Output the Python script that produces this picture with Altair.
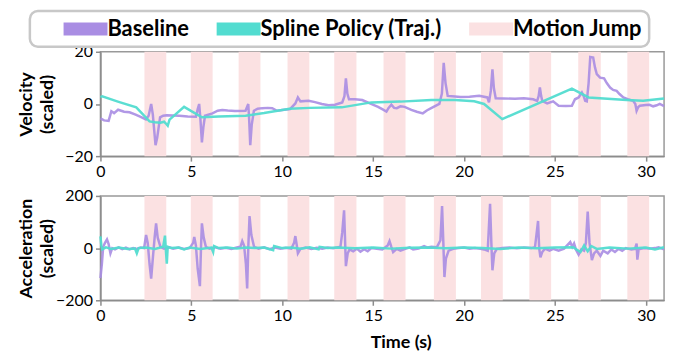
import altair as alt
import pandas as pd

FONT = "Lato"
PURPLE = "#a98de3"
TEAL = "#52dcd0"
PINK = "#fbe1e2"

series_names = ["Baseline", "Spline Policy (Traj.)", "Motion Jump"]

jump_start = [2.42, 4.97, 7.60, 10.29, 12.86, 15.57, 18.34, 20.93, 23.59, 26.28, 28.98]
jump_end = [3.62, 6.17, 8.80, 11.49, 14.08, 16.78, 19.55, 22.13, 24.79, 27.52, 30.18]

vel_base_t = [0.0, 0.2, 0.45, 0.6, 0.75, 0.97, 1.3, 1.6, 1.9, 2.15, 2.5, 2.65, 2.79, 2.88, 3.03, 3.12,
              3.28, 3.45, 3.65, 4.0, 4.34, 4.8, 5.25, 5.35, 5.43, 5.5, 5.58, 5.66, 5.75, 6.16, 6.45,
              6.7, 7.0, 7.4, 7.98, 8.13, 8.18, 8.24, 8.32, 8.44, 8.65, 8.9, 9.2, 9.45, 9.71, 10.0,
              10.43, 10.72, 10.86, 11.0, 11.45, 11.8, 12.18, 12.55, 12.9, 13.3, 13.42, 13.5, 13.58,
              13.67, 14.0, 14.4, 14.82, 15.27, 15.5, 15.73, 15.85, 16.0, 16.15, 16.3, 16.5, 16.73,
              17.1, 17.4, 17.73, 17.95, 18.19, 18.64, 18.78, 18.88, 18.98, 19.1, 19.5, 19.8, 20.3,
              20.83, 21.28, 21.37, 21.47, 21.56, 21.64, 21.74, 22.2, 22.8, 23.29, 23.8, 24.02, 24.1,
              24.17, 24.24, 24.3, 24.57, 24.9, 25.2, 25.6, 25.93, 26.1, 26.3, 26.48, 26.58, 26.66,
              26.75, 26.85, 26.94, 27.1, 27.2, 27.3, 27.48, 27.7, 27.85, 28.03, 28.2, 28.39, 28.55,
              28.76, 29.0, 29.3, 29.42, 29.49, 29.58, 29.67, 30.0, 30.2, 30.4, 30.6, 30.76, 31.0]
vel_base_v = [-5.5, -6.3, -6.5, -2.8, -3.5, -2.2, -3.0, -3.2, -4.0, -4.8, -5.9, -4.5, 0.0, -4.0, -15.8, -13.0,
              -5.1, -4.5, -4.3, -4.4, -4.5, -4.8, -4.9, -2.0, 0.0, -6.0, -14.7, -9.0, -4.5, -3.6, -2.6,
              -2.3, -2.5, -2.7, -2.6, 0.0, -6.0, -15.8, -8.0, -2.6, -1.8, -1.6, -1.5, -1.6, -2.6, -2.3,
              -2.0, 0.2, 2.5, 1.0, 1.2, 0.7, 0.0, -0.5, -0.3, 0.6, 3.0, 9.8, 4.0,
              1.8, 1.8, 1.5, 0.2, -1.1, -2.0, -2.9, -1.5, -0.3, -1.5, -1.6, -0.9, -1.1,
              -2.3, -3.0, -3.6, -2.5, -1.6, 0.0, 4.0, 15.8, 8.0, 3.1, 2.9, 2.7, 2.8,
              3.1, 2.5, 0.6, 5.0, 13.3, 6.0, 2.2, 2.1, 2.0, 2.2, 1.8, 1.2, 3.0,
              6.3, 3.0, 1.2, 0.2, 1.0, -0.7, -0.8, -0.7, 1.8, 2.5, 4.4, 3.0, 1.2,
              1.0, 8.0, 18.0, 17.8, 14.0, 11.4, 10.1, 9.8, 8.0, 6.3, 5.4, 5.0, 3.8,
              2.5, 1.8, 1.2, 0.0, -2.6, -1.2, -0.7, -0.4, -0.3, -0.9, -0.5, 0.0, -0.8]

vel_spline_t = [0.0, 0.1, 1.0, 1.97, 2.7, 3.0, 3.3, 3.5, 3.6, 3.7, 3.8, 4.6, 5.58, 6.5, 7.98, 9.0,
                10.4, 11.5, 13.27, 14.9, 16.5, 18.2, 19.5, 20.56, 21.1, 22.1, 25.93, 26.85, 28.94,
                29.85, 31.0]
vel_spline_v = [2.6, 2.9, 0.8, -1.3, -6.7, -7.0, -7.2, -6.8, -7.5, -8.3, -6.0, -1.1, -5.1, -4.8, -4.5, -3.5,
                -1.8, -1.5, -1.3, 0.6, 0.9, 1.5, 1.5, 1.0, 0.0, -5.8, 5.9, 2.5, 1.5,
                1.2, 2.1]

acc_base_t = [0.0, 0.08, 0.15, 0.25, 0.36, 0.45, 0.55, 0.65, 0.8, 1.0, 1.2, 1.4, 1.6, 1.8, 2.0, 2.2,
              2.4, 2.51, 2.6, 2.7, 2.79, 2.88, 2.98, 3.06, 3.15, 3.3, 3.5, 3.8, 4.0, 4.3, 4.6, 4.9,
              5.1, 5.16, 5.25, 5.35, 5.47, 5.53, 5.58, 5.68, 5.8, 6.0, 6.3, 6.6, 6.9, 7.2, 7.5, 7.7,
              7.8, 7.9, 8.0, 8.07, 8.13, 8.2, 8.3, 8.45, 8.7, 9.0, 9.3, 9.6, 9.9, 10.2, 10.5, 10.65,
              10.72, 10.8, 10.86, 11.0, 11.3, 11.6, 11.9, 12.2, 12.5, 12.8, 13.2, 13.3, 13.4, 13.45,
              13.5, 13.6, 13.7, 13.9, 14.1, 14.3, 14.5, 14.7, 14.9, 15.2, 15.5, 15.8, 15.9, 16.0,
              16.1, 16.3, 16.5, 16.8, 17.0, 17.2, 17.5, 17.8, 18.0, 18.2, 18.5, 18.7, 18.79, 18.86,
              18.92, 19.0, 19.15, 19.4, 19.7, 20.0, 20.3, 20.6, 20.9, 21.1, 21.3, 21.43, 21.5, 21.56,
              21.66, 21.8, 22.1, 22.5, 22.9, 23.3, 23.7, 23.9, 24.07, 24.13, 24.2, 24.3, 24.45, 24.7,
              24.9, 25.2, 25.5, 25.84, 25.95, 26.05, 26.15, 26.3, 26.45, 26.6, 26.7, 26.8, 26.9,
              27.03, 27.15, 27.3, 27.5, 27.65, 27.9, 28.1, 28.3, 28.5, 28.7, 28.9, 29.2, 29.4, 29.49,
              29.53, 29.6, 29.9, 30.2, 30.5, 30.7, 31.0]
acc_base_v = [-115, -60, 5, 20, 33, 15, -20, 0, -5, 3, -4, 2, -5, 0, -3, 2,
              0, 50, 20, -60, -117, -40, 40, 95, 40, 5, -2, 3, -2, 2, -3, 0,
              20, 43, 10, -80, -146, 0, 95, 40, 5, -2, 3, -2, 1, -3, 2, 5,
              27, 10, -60, -155, 0, 123, 50, 5, -2, 3, -4, 2, -2, 1, -2, 20,
              46, 10, -20, -3, 2, -3, 1, -2, 2, -1, 5, 60, 145, 40,
              -69, -20, -5, -12, -2, -14, -4, -12, 0, -3, -5, 10, 27, 5,
              -15, -3, -10, -2, 3, -5, -2, 8, 2, 5, 3, 30, 161, 20,
              -111, -40, -10, -3, 0, 2, -2, 0, -3, -5, -10, 170, 20, -85,
              -20, -3, 0, 2, -1, 2, 0, 3, 104, 0, -35, -15, -2, -10,
              -3, -10, -2, 23, 5, 18, -5, -25, -5, -10, 20, 140, 20,
              -46, -20, -10, -30, -10, -20, -5, -15, -3, -10, 0, -5, -3, 17,
              -44, -5, 0, -2, 0, 3, -5]

acc_spline_t = [0.0, 0.05, 0.1, 0.3, 0.6, 1.0, 1.5, 1.9, 2.0, 2.1, 2.5, 3.0, 3.45, 3.55, 3.6, 3.65,
                3.7, 3.9, 4.3, 4.6, 4.9, 5.5, 6.1, 6.2, 6.25, 6.5, 7.0, 7.5, 8.0, 8.5, 9.0, 9.5,
                9.55, 10.0, 10.5, 11.0, 11.5, 12.0, 12.05, 12.5, 13.0, 14.0, 15.0, 16.0, 17.0, 18.0,
                19.0, 20.0, 21.0, 22.0, 23.0, 24.0, 25.0, 26.0, 26.4, 26.6, 26.8, 27.0, 27.3, 28.0,
                29.0, 30.0, 30.5, 31.0]
acc_spline_v = [45, 10, -5, 3, -3, 2, -3, -2, -20, 0, 2, -3, 5, 48, -10, -60,
                5, 0, 2, -5, 2, -3, 2, -15, 8, 0, 2, -2, 2, 0, 2, -8,
                8, 0, 2, -2, 3, -5, 5, 0, 2, -1, 2, -2, 1, 2,
                -1, 2, 0, -3, 2, -1, 2, 3, -15, 10, -12, 8, -3, 2,
                -2, 2, -5, 3]

vel_df = pd.concat([
    pd.DataFrame({"t": vel_base_t, "v": vel_base_v, "series": "Baseline"}),
    pd.DataFrame({"t": vel_spline_t, "v": vel_spline_v, "series": "Spline Policy (Traj.)"}),
])
acc_df = pd.concat([
    pd.DataFrame({"t": acc_base_t, "v": acc_base_v, "series": "Baseline"}),
    pd.DataFrame({"t": acc_spline_t, "v": acc_spline_v, "series": "Spline Policy (Traj.)"}),
])
band_df = pd.DataFrame({"start": jump_start, "end": jump_end, "series": "Motion Jump"})

color_scale = alt.Scale(domain=series_names, range=[PURPLE, TEAL, PINK])
legend = alt.Legend(
    title=None, orient="none", legendX=-71, legendY=-41, direction="horizontal",
    symbolType="M-3.4,-1H3.4V1H-3.4Z", symbolSize=169, symbolStrokeWidth=0, symbolOpacity=1,
    symbolOffset=38, labelLimit=400,
    labelFont=FONT, labelFontSize=22, labelFontWeight="bold", labelColor="black",
    labelOffset=11, columnPadding=-15, padding=7, strokeColor="#c8c8c8", cornerRadius=8,
    fillColor="white",
)

W, H = 567, 105


def panel(df, dom, ticks, title, xtitle):
    xaxis = alt.Axis(values=[0, 5, 10, 15, 20, 25, 30], title=xtitle, labelFlush=False)
    if xtitle:
        xaxis = alt.Axis(values=[0, 5, 10, 15, 20, 25, 30], title=xtitle, labelFlush=False,
                         titleX=302, titleY=47, titleBaseline="alphabetic")
    xs = alt.Scale(domain=[0, 31], nice=False, zero=False)
    ys = alt.Scale(domain=dom, nice=False, zero=False)
    bands = alt.Chart(band_df).mark_rect().encode(
        x=alt.X("start:Q", scale=xs, axis=xaxis),
        x2="end:Q",
        color=alt.Color("series:N", scale=color_scale, legend=legend),
    )
    base = alt.Chart(df[df.series == "Baseline"]).mark_line(strokeWidth=2.5, opacity=0.9).encode(
        x=alt.X("t:Q", scale=xs),
        y=alt.Y("v:Q", scale=ys, axis=alt.Axis(values=ticks, title=title, titleX=-65, titleY=H / 2,
                                                 titleBaseline="bottom", titleAngle=-90,
                                                 labelOverlap=False)),
        color=alt.Color("series:N", scale=color_scale, legend=None),
    )
    spl = alt.Chart(df[df.series != "Baseline"]).mark_line(strokeWidth=2.5, opacity=0.95).encode(
        x=alt.X("t:Q", scale=xs),
        y=alt.Y("v:Q", scale=ys),
        color=alt.Color("series:N", scale=color_scale, legend=None),
    )
    return alt.layer(bands, base, spl).properties(width=W, height=H)


top = panel(vel_df, [-20, 20], [-20, -10, 0, 10, 20], ["Velocity", "(scaled)"], None)
bot = panel(acc_df, [-200, 200], [-200, -100, 0, 100, 200], ["Acceleration", "(scaled)"], "Time (s)")

chart = alt.vconcat(top, bot, spacing=7).properties(
    padding={"left": 9, "top": 0, "right": 5, "bottom": 2}
).configure_view(
    stroke="#999999", strokeWidth=1.5
).configure_legend(
    strokeWidth=2.5
).configure_axis(
    grid=False, domainColor="#8c8c8c", domainWidth=1.5, tickColor="#8c8c8c", tickWidth=1.5,
    tickSize=5, labelFont=FONT, labelFontSize=16, labelColor="black", labelPadding=3,
    titleFont=FONT, titleFontSize=18, titleFontWeight="bold", titleColor="black", titleLineHeight=21,
).configure_axisX(labelPadding=2)

chart.save("out.html", embed_options={"renderer": "svg", "actions": False})
